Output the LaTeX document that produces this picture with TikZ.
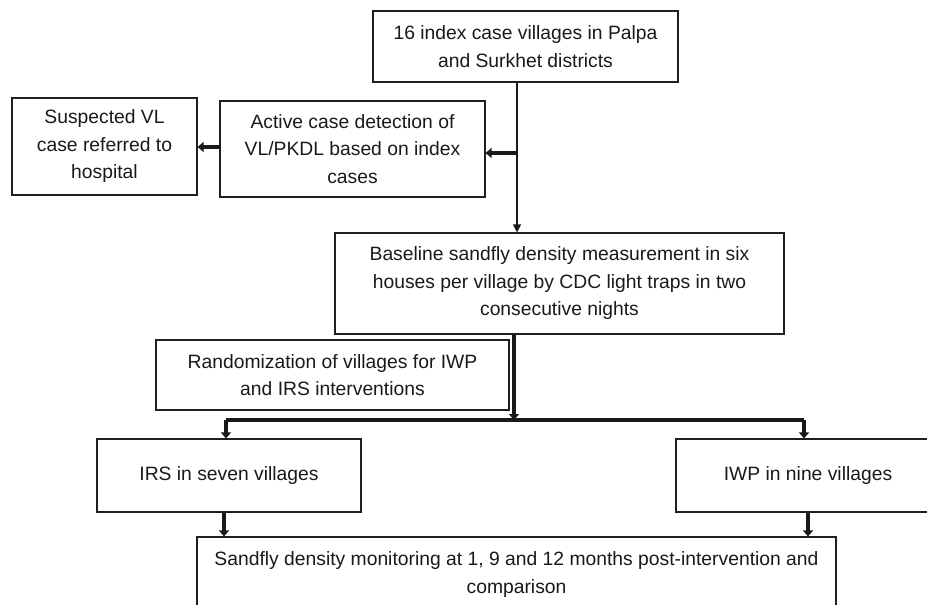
\documentclass[tikz,border=0pt]{standalone}
\usepackage{fontspec}
\setmainfont{Liberation Sans}
\usetikzlibrary{arrows.meta}
\begin{document}
\begin{tikzpicture}[x=1pt,y=-1pt,
  box/.style={draw=black!88,line width=1.2pt,align=center,inner sep=0pt,
    font=\fontsize{19.3}{27.5}\selectfont,text=black!90},
  thinarrow/.style={draw=black!90,line width=1.4pt,-{Triangle[length=8pt,width=8pt]}},
  thickarrow/.style={draw=black!90,line width=3.2pt,-{Triangle[length=6pt,width=10pt]}},
  thickline/.style={draw=black!90,line width=3.4pt}]
\path[use as bounding box] (0,0) rectangle (927,605);
\clip (0,0) rectangle (927,605);
\node[box,minimum width=305,minimum height=71] (top) at (525.5,46.5)
  {16 index case villages in Palpa\\and Surkhet districts};
\node[box,minimum width=185,minimum height=97] (susp) at (104.5,146.5)
  {Suspected VL\\case referred to\\hospital};
\node[box,minimum width=265,minimum height=96] (active) at (352.5,149)
  {Active case detection of\\VL/PKDL based on index\\cases};
\node[box,minimum width=449,minimum height=101] (base) at (559.5,283.5)
  {Baseline sandfly density measurement in six\\houses per village by CDC light traps in two\\consecutive nights};
\node[box,minimum width=353,minimum height=70] (rand) at (332.5,375)
  {Randomization of villages for IWP\\and IRS interventions};
\node[box,minimum width=264,minimum height=73] (irs) at (229,475.5)
  {IRS in seven villages};
\node[box,minimum width=264,minimum height=73] (iwp) at (808,475.5)
  {IWP in nine villages};
\node[box,minimum width=639,minimum height=75] (mon) at (516.5,574.5)
  {Sandfly density monitoring at 1, 9 and 12 months post-intervention and\\comparison};
% connector coordinates
\coordinate (sp) at (517,153);
\coordinate (ac) at (220,147);
\coordinate (sp2) at (514,420);
\coordinate (hl) at (226,420);
\coordinate (hr) at (804,420);
\coordinate (irsx) at (224,512);
\draw[thinarrow] (top.south -| sp) -- (base.north -| sp);
\draw[thickarrow] (sp) -- (active.east |- sp);
\draw[thickarrow] (ac) -- (susp.east |- ac);
\draw[thickarrow] (base.south -| sp2) -- (sp2);
\draw[thickline] (hl) -- (hr);
\draw[thickarrow] (hl) -- (irs.north -| hl);
\draw[thickarrow] (hr) -- (iwp.north -| hr);
\draw[thickarrow] (irsx) -- (mon.north -| irsx);
\draw[thickarrow] (iwp.south) -- (mon.north -| iwp.south);
\end{tikzpicture}
\end{document}
